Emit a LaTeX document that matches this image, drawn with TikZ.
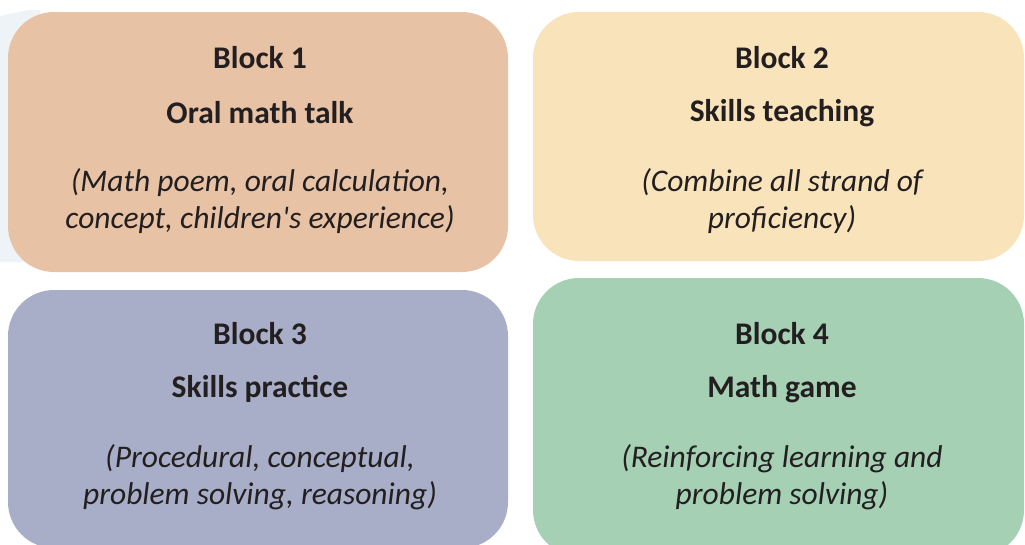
\documentclass[tikz,border=0pt]{standalone}
\usepackage{fontspec}
\setmainfont{Carlito}[Ligatures=TeXOff]
\begin{document}
\begin{tikzpicture}[x=1pt,y=-1pt,
  blk/.style={rounded corners=46pt},
  ttl/.style={font=\fontsize{31.5}{36}\selectfont\bfseries, text=txt, inner sep=0pt},
  desc/.style={font=\fontsize{31.5}{36.5}\selectfont\itshape, text=txt, align=center, inner sep=0pt}]
\definecolor{txt}{HTML}{231F20}
\definecolor{cA}{HTML}{E8C2A5}
\definecolor{cB}{HTML}{F9E3BA}
\definecolor{cC}{HTML}{A8AEC7}
\definecolor{cD}{HTML}{A5D0B4}
\definecolor{bg}{HTML}{EEF3F8}
\useasboundingbox (0,0) rectangle (1025,544);
\fill[bg] (0,262) -- (0,16) -- (28,10) -- (40,10) -- (40,262) -- cycle;
\fill[cA,blk] (8,12) rectangle (508,272);
\fill[cB,blk] (533,12) rectangle (1024,261);
\fill[cC,blk] (8,290) rectangle (508,548);
\fill[cD,blk] (533,278) rectangle (1024,556);
\node[ttl] (t1) at (260,58) {Block 1};
\node[ttl] (s1) at (260,113) {Oral math talk};
\node[desc] (d1) at (260,201) {(Math poem, oral calculation,\\concept, children's experience)};
\node[ttl] (t2) at (782,58) {Block 2};
\node[ttl] (s2) at (782,113) {Skills teaching};
\node[desc] (d2) at (782,201) {(Combine all strand of\\proficiency)};
\node[ttl] (t3) at (260,334) {Block 3};
\node[ttl] (s3) at (260,389) {Skills practice};
\node[desc] (d3) at (260,477) {(Procedural, conceptual,\\problem solving, reasoning)};
\node[ttl] (t4) at (782,334) {Block 4};
\node[ttl] (s4) at (782,389) {Math game};
\node[desc] (d4) at (782,477) {(Reinforcing learning and\\problem solving)};
\end{tikzpicture}
\end{document}
